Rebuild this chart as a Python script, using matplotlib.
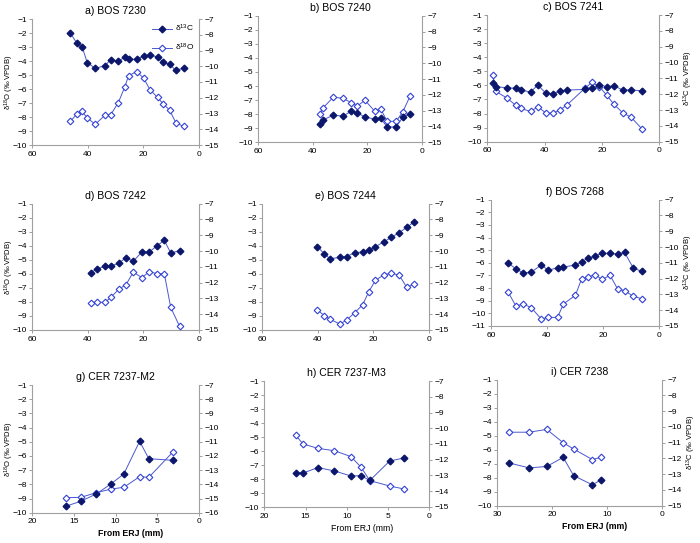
import matplotlib
matplotlib.use("Agg")
import matplotlib.pyplot as plt
from matplotlib.lines import Line2D

plt.rcParams['font.family'] = ['Liberation Sans', 'DejaVu Sans']
plt.rcParams['mathtext.default'] = 'regular'

# ---- datos (distancia desde ERJ en mm, d13C y d18O en ‰ VPDB) ----
dist_a = [46.3, 43.9, 42.0, 40.2, 37.3, 33.7, 31.8, 29.0, 26.6, 25.3, 22.4, 19.9, 17.5, 14.8, 12.9, 10.5, 8.2, 5.4]
d13c_a = [-7.89, -8.54, -8.78, -9.77, -10.13, -9.96, -9.58, -9.67, -9.43, -9.56, -9.56, -9.35, -9.29, -9.41, -9.73, -9.88, -10.26, -10.11]
d18o_a = [-8.31, -7.79, -7.60, -8.07, -8.52, -7.86, -7.86, -6.98, -5.83, -5.05, -4.76, -5.21, -6.07, -6.60, -7.05, -7.50, -8.43, -8.67]

dist_b = [37.3, 36.4, 32.4, 29.0, 25.8, 23.7, 20.8, 17.3, 15.1, 12.7, 9.4, 6.9, 4.2]
d13c_b = [-13.86, -13.59, -13.29, -13.34, -13.04, -13.17, -13.38, -13.55, -13.48, -14.03, -14.03, -13.40, -13.19]
d18o_b = [-8.01, -7.59, -6.78, -6.88, -7.18, -7.42, -7.02, -7.78, -7.61, -8.51, -8.51, -7.82, -6.69]

dist_c = [58.1, 57.0, 53.3, 50.0, 48.4, 44.9, 42.4, 39.5, 37.0, 34.5, 32.1, 26.0, 23.5, 20.9, 18.3, 15.8, 12.8, 9.8, 6.0]
d13c_c = [-11.27, -11.53, -11.59, -11.63, -11.74, -11.86, -11.42, -11.95, -11.97, -11.78, -11.74, -11.70, -11.61, -11.40, -11.53, -11.46, -11.74, -11.74, -11.78]
d18o_c = [-5.26, -6.43, -6.88, -7.42, -7.63, -7.85, -7.52, -7.97, -7.97, -7.73, -7.37, -6.21, -5.79, -6.09, -6.71, -7.35, -7.94, -8.27, -9.10]

dist_d = [39.0, 36.6, 33.8, 31.5, 28.9, 26.2, 23.6, 20.5, 17.8, 15.0, 12.4, 10.1, 6.9]
d13c_d = [-11.37, -11.14, -10.95, -10.93, -10.78, -10.42, -10.65, -10.06, -10.06, -9.66, -9.32, -10.12, -9.98]
d18o_d = [-8.05, -8.03, -8.03, -7.65, -7.10, -6.77, -5.87, -6.27, -5.84, -5.99, -5.99, -8.38, -9.74]

dist_e = [40.1, 37.6, 35.6, 32.0, 29.6, 26.7, 23.8, 21.6, 19.2, 16.1, 13.5, 10.7, 7.9, 5.2]
d13c_e = [-9.72, -10.19, -10.48, -10.40, -10.35, -10.10, -10.06, -9.93, -9.72, -9.41, -9.13, -8.84, -8.50, -8.14]
d18o_e = [-8.58, -8.98, -9.24, -9.57, -9.29, -8.77, -8.20, -7.27, -6.46, -6.06, -5.96, -6.08, -6.96, -6.72]

dist_f = [53.8, 51.1, 48.4, 45.6, 42.0, 39.5, 36.2, 34.1, 29.8, 27.6, 25.4, 22.8, 20.2, 17.4, 14.7, 12.2, 9.1, 6.0]
d13c_f = [-11.03, -11.37, -11.66, -11.58, -11.14, -11.47, -11.31, -11.26, -11.14, -10.93, -10.72, -10.55, -10.40, -10.40, -10.44, -10.34, -11.33, -11.54]
d18o_f = [-8.34, -9.42, -9.26, -9.55, -10.45, -10.32, -10.32, -9.26, -8.57, -7.28, -7.12, -6.94, -7.31, -6.99, -8.07, -8.20, -8.65, -8.84]

dist_g = [16.0, 14.2, 12.3, 10.5, 9.0, 7.1, 6.0, 3.1]
d13c_g = [-15.55, -15.20, -14.68, -13.95, -13.27, -10.97, -12.19, -12.31]
d18o_g = [-8.94, -8.92, -8.59, -8.33, -8.21, -7.46, -7.51, -5.72]

dist_h = [16.2, 15.3, 13.5, 11.5, 9.5, 8.3, 7.2, 4.8, 3.1]
d13c_h = [-12.82, -12.84, -12.50, -12.71, -13.03, -13.01, -13.31, -12.08, -11.89]
d18o_h = [-4.88, -5.50, -5.81, -5.98, -6.40, -7.14, -8.12, -8.50, -8.71]

dist_i = [27.8, 24.2, 21.0, 18.0, 16.1, 12.7, 11.1]
d13c_i = [-12.29, -12.60, -12.51, -11.93, -13.09, -13.67, -13.36]
d18o_i = [-4.75, -4.75, -4.55, -5.50, -5.95, -6.70, -6.55]

titulos = ['a) BOS 7230', 'b) BOS 7240', 'c) BOS 7241',
           'd) BOS 7242', 'e) BOS 7244', 'f) BOS 7268',
           'g) CER 7237-M2', 'h) CER 7237-M3', 'i) CER 7238']
xticks_grandes = [60, 40, 20, 0]
xticks_m = [20, 15, 10, 5, 0]
xticks_i = [30, 20, 10, 0]
ylabel_o = r'δ$^{18}$O (‰ VPDB)'
ylabel_c = r'δ$^{13}$C (‰ VPDB)'
xlabel = 'From ERJ (mm)'

# ---- estilo ----
C_FILL = '#0c176b'
C_OPEN = '#3040d8'
C_LINE = '#4a58cc'
C_AXIS = '#a0a0a0'
TICK_FS = 6
W, H = 700, 543

fig = plt.figure(figsize=(W / 100, H / 100), dpi=100)

# (x0, y0, x1, y1) en pixeles de cada panel
cajas = [(32.3, 19, 198.7, 145), (258.3, 15.7, 421.7, 142.3), (487.3, 15, 659.3, 141.7),
         (32.3, 203.7, 198.7, 330), (262.3, 203.7, 428.7, 330), (491, 199.7, 658.7, 326),
         (32.3, 385, 198.7, 512.7), (264.3, 381, 429.3, 507), (497.3, 379.7, 662, 505.7)]

paneles = [
    (dist_a, d13c_a, d18o_a, xticks_grandes, (-10, -1), (-15, -7)),
    (dist_b, d13c_b, d18o_b, xticks_grandes, (-10, -1), (-15, -7)),
    (dist_c, d13c_c, d18o_c, xticks_grandes, (-10, -1), (-15, -7)),
    (dist_d, d13c_d, d18o_d, xticks_grandes, (-10, -1), (-15, -7)),
    (dist_e, d13c_e, d18o_e, xticks_grandes, (-10, -1), (-15, -7)),
    (dist_f, d13c_f, d18o_f, xticks_grandes, (-11, -1), (-15, -7)),
    (dist_g, d13c_g, d18o_g, xticks_m, (-10, -1), (-16, -7)),
    (dist_h, d13c_h, d18o_h, xticks_m, (-10, -1), (-15, -7)),
    (dist_i, d13c_i, d18o_i, xticks_i, (-10, -1), (-15, -7)),
]

for k, (caja, (dist, d13c, d18o, xt, ylo, ylc)) in enumerate(zip(cajas, paneles)):
    x0, y0, x1, y1 = caja
    ax = fig.add_axes([x0 / W, 1 - y1 / H, (x1 - x0) / W, (y1 - y0) / H])
    ax2 = ax.twinx()

    ax.plot(dist, d18o, color=C_LINE, lw=0.7, marker='D', ms=3.4,
            mfc='white', mec=C_OPEN, mew=0.8, zorder=3)
    ax2.plot(dist, d13c, color=C_LINE, lw=0.7, marker='D', ms=3.4,
             mfc=C_FILL, mec=C_FILL, zorder=3)

    ax.set_xlim(xt[0], xt[-1])
    ax.set_xticks(xt)
    ax.set_ylim(*ylo)
    ax.set_yticks(range(ylo[0], ylo[1] + 1))
    ax2.set_ylim(*ylc)
    ax2.set_yticks(range(ylc[0], ylc[1] + 1))

    # Ejes estilo hoja de calculo: grises, sin borde superior
    for a in (ax, ax2):
        a.spines['top'].set_visible(False)
        for s in a.spines.values():
            s.set_color(C_AXIS)
            s.set_linewidth(0.8)
        a.tick_params(direction='out', length=2.5, width=0.7, color=C_AXIS,
                      labelsize=TICK_FS, pad=1.5)
    ax.spines['right'].set_visible(False)
    ax2.spines['left'].set_visible(False)
    ax2.spines['bottom'].set_visible(False)

    ax.set_title(titulos[k], fontsize=7.6, pad=3.5)

    if k % 3 == 0:
        ax.set_ylabel(ylabel_o, fontsize=5.5)
        ax.yaxis.set_label_coords(-0.1, 0.5)
    if k % 3 == 2:
        ax2.set_ylabel(ylabel_c, fontsize=5.5, labelpad=2)
    if k >= 6:
        peso = 'normal' if k == 7 else 'bold'
        ax.set_xlabel(xlabel, fontsize=6.3, fontweight=peso, labelpad=3)
        ax.xaxis.label.set_x(0.59)

    if k == 0:
        manejadores = [
            Line2D([], [], color=C_LINE, lw=0.7, marker='D', ms=3.4, mfc=C_FILL, mec=C_FILL),
            Line2D([], [], color=C_LINE, lw=0.7, marker='D', ms=3.4, mfc='white', mec=C_OPEN, mew=0.8),
        ]
        ax.legend(manejadores, [r'δ$^{13}$C', r'δ$^{18}$O'], loc='upper right',
                  frameon=False, fontsize=TICK_FS, handlelength=2.4,
                  handletextpad=0.4, labelspacing=0.9, borderaxespad=0.1)

fig.savefig('out.png', dpi=100)
